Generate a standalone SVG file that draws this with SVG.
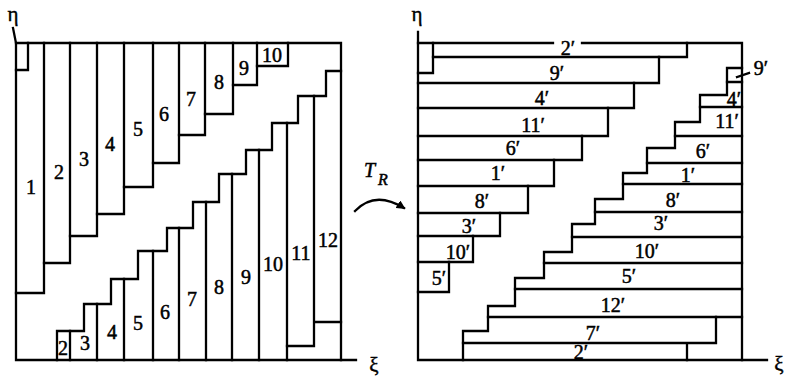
<svg xmlns="http://www.w3.org/2000/svg" width="785" height="380" viewBox="0 0 785 380">
<style>
.ln{fill:none;stroke:#000;stroke-width:2.3;stroke-linecap:square;stroke-linejoin:miter}
.lb{font-family:"Liberation Serif","Times New Roman",serif;font-size:20px;fill:#000;stroke:#000;stroke-width:0.5;text-anchor:middle}
.ax{font-family:"Liberation Serif","Times New Roman",serif;font-size:21px;fill:#000;stroke:#000;stroke-width:0.4;text-anchor:middle}
.it{font-family:"Liberation Serif","Times New Roman",serif;font-style:italic;fill:#000;stroke:#000;stroke-width:0.5}
</style>
<defs>
<marker id="ah" viewBox="0 0 10 10" refX="8" refY="5" markerWidth="9" markerHeight="9" markerUnits="userSpaceOnUse" orient="auto">
<path d="M0,0 L10,5 L0,10 Z" fill="#000"/>
</marker>
</defs>
<rect width="785" height="380" fill="#fff"/>

<g id="left-panel">
<g id="left-frame">
<path class="ln" d="M13,28 L16,43 V360 H356"/>
<path class="ln" d="M16,43 H341 V360"/>
<path class="ln" d="M16,70 H28 V43"/>
</g>
<g id="left-upper-bars">
<path class="ln" d="M16,293 H44 V43"/>
<path class="ln" d="M44,263 H70 V43"/>
<path class="ln" d="M70,236 H97 V43"/>
<path class="ln" d="M97,214 H124 V43"/>
<path class="ln" d="M124,187 H153 V43"/>
<path class="ln" d="M153,163 H179 V43"/>
<path class="ln" d="M179,135 H205 V43"/>
<path class="ln" d="M205,114 H233 V43"/>
<path class="ln" d="M233,85 H257 V43"/>
<path class="ln" d="M257,66 H288 V43"/>
</g>
<g id="left-lower-bars">
<path class="ln" d="M57,360 V331 H84 V304 H111 V279 H138 V251 H167 V228 H193 V202 H219 V174 H246 V150 H272 V123 H298 V96 H326 V71 H341"/>
<path class="ln" d="M70,331 V360 M97,304 V360 M124,279 V360 M153,251 V360 M179,228 V360 M206,202 V360 M232,174 V360 M259,150 V360 M287,123 V360"/>
<path class="ln" d="M314,96 V346 H287 M314,322 H341"/>
</g>
<g id="left-labels">
<text class="lb" x="31" y="194">1</text>
<text class="lb" x="59" y="179">2</text>
<text class="lb" x="84" y="166">3</text>
<text class="lb" x="110" y="151">4</text>
<text class="lb" x="138" y="136">5</text>
<text class="lb" x="164" y="121">6</text>
<text class="lb" x="191" y="106">7</text>
<text class="lb" x="219" y="89">8</text>
<text class="lb" x="244" y="75">9</text>
<text class="lb" x="272" y="62">10</text>
<text class="lb" x="63" y="355">2</text>
<text class="lb" x="85" y="350">3</text>
<text class="lb" x="112" y="339">4</text>
<text class="lb" x="138" y="330">5</text>
<text class="lb" x="165" y="319">6</text>
<text class="lb" x="192" y="306">7</text>
<text class="lb" x="219" y="294">8</text>
<text class="lb" x="246" y="284">9</text>
<text class="lb" x="273" y="271">10</text>
<text class="lb" x="301" y="260">11</text>
<text class="lb" x="328" y="247">12</text>
<text class="ax" x="13" y="21">η</text>
<text class="ax" x="374" y="372">ξ</text>
</g>
</g>

<g id="transform">
<path class="ln" d="M355,211 Q375,190 404,208" marker-end="url(#ah)"/>
<text class="it" x="364" y="177" font-size="20">T</text>
<text class="it" x="378" y="185" font-size="16">R</text>
</g>

<g id="right-panel">
<g id="right-frame">
<path class="ln" d="M418,32 V360 H767"/>
<path class="ln" d="M418,43 H553 M582,43 H742 V360"/>
<path class="ln" d="M418,73 H433 V43"/>
</g>
<g id="right-upper-bars">
<path class="ln" d="M433,57 H687 V43"/>
<path class="ln" d="M418,83 H659 V57"/>
<path class="ln" d="M418,108 H634 V83"/>
<path class="ln" d="M418,136 H608 V108"/>
<path class="ln" d="M418,160 H582 V136"/>
<path class="ln" d="M418,186 H554 V160"/>
<path class="ln" d="M418,213 H528 V186"/>
<path class="ln" d="M418,236 H500 V213"/>
<path class="ln" d="M418,262 H473 V236"/>
<path class="ln" d="M418,292 H449 V262"/>
</g>
<g id="right-lower-bars">
<path class="ln" d="M463,360 V331 H488 V306 H515 V278 H544 V252 H572 V224 H595 V199 H623 V173 H647 V148 H675 V122 H700 V95 H727 V68 H742"/>
<path class="ln" d="M727,82 H742 M700,107 H742 M675,136 H742 M647,163 H742 M623,184 H742 M595,212 H742 M572,237 H742 M544,263 H742 M515,289 H742 M488,317 H742"/>
<path class="ln" d="M463,343 H716 V317 M687,343 V360"/>
<path class="ln" d="M737,77 L749,73"/>
</g>
<g id="right-labels">
<text class="lb" x="568" y="55">2′</text>
<text class="lb" x="557" y="80">9′</text>
<text class="lb" x="542" y="105">4′</text>
<text class="lb" x="533" y="132">11′</text>
<text class="lb" x="513" y="155">6′</text>
<text class="lb" x="498" y="180">1′</text>
<text class="lb" x="482" y="208">8′</text>
<text class="lb" x="469" y="233">3′</text>
<text class="lb" x="458" y="259">10′</text>
<text class="lb" x="439" y="285">5′</text>
<text class="lb" x="761" y="75">9′</text>
<text class="lb" x="734" y="106">4′</text>
<text class="lb" x="727" y="128">11′</text>
<text class="lb" x="703" y="158">6′</text>
<text class="lb" x="688" y="182">1′</text>
<text class="lb" x="673" y="207">8′</text>
<text class="lb" x="661" y="230">3′</text>
<text class="lb" x="647" y="258">10′</text>
<text class="lb" x="629" y="283">5′</text>
<text class="lb" x="613" y="312">12′</text>
<text class="lb" x="593" y="340">7′</text>
<text class="lb" x="581" y="359">2′</text>
<text class="ax" x="417" y="21">η</text>
<text class="ax" x="779" y="371">ξ</text>
</g>
</g>
</svg>
